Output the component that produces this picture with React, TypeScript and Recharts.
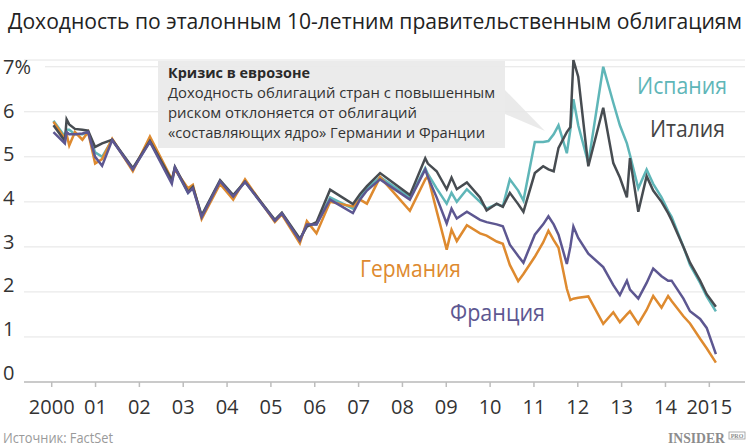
import React from 'react';
import { LineChart, Line, XAxis, YAxis, CartesianGrid } from 'recharts';

// годы (десятичные), общие для всех четырёх рядов
const dates = [
  2000.04, 2000.30, 2000.34, 2000.40, 2000.53, 2000.70, 2000.83, 2000.99, 2001.15, 2001.38,
  2001.85, 2002.24, 2002.74, 2002.81, 2003.11, 2003.22, 2003.42, 2003.84, 2004.14, 2004.41,
  2005.09, 2005.25, 2005.66, 2005.82, 2006.04, 2006.35, 2006.87, 2007.03, 2007.19, 2007.49,
  2008.17, 2008.52, 2008.58, 2008.78, 2009.01, 2009.12, 2009.24, 2009.47, 2009.77, 2009.92,
  2010.15, 2010.29, 2010.45, 2010.64, 2010.76, 2011.02, 2011.21, 2011.33, 2011.45, 2011.56,
  2011.75, 2011.83, 2011.90, 2012.01, 2012.24, 2012.58, 2012.81, 2012.96, 2013.12, 2013.19,
  2013.38, 2013.57, 2013.72, 2013.91, 2014.06, 2014.14, 2014.41, 2014.56, 2014.79, 2014.94,
  2015.15,
];

const spain = [
  5.80, 5.45, 5.60, 5.60, 5.50, 5.50, 5.55, 5.10, 5.00, 5.38,
  4.72, 5.35, 4.45, 4.75, 4.20, 4.33, 3.68, 4.45, 4.13, 4.45,
  3.58, 3.74, 3.15, 3.50, 3.50, 4.10, 3.85, 4.10, 4.30, 4.55,
  4.10, 4.75, 4.62, 4.30, 3.96, 4.20, 4.00, 4.28, 4.00, 3.85,
  3.95, 3.90, 4.50, 4.25, 4.03, 5.33, 5.33, 5.35, 5.50, 5.70,
  5.08, 5.60, 6.28, 5.70, 4.86, 7.00, 6.20, 5.70, 5.30, 5.04,
  4.30, 4.72, 4.40, 4.10, 3.80, 3.67, 3.00, 2.60, 2.20, 1.90,
  1.57,
];

const italy = [
  5.70, 5.35, 5.83, 5.72, 5.62, 5.60, 5.58, 5.22, 5.30, 5.38,
  4.75, 5.35, 4.48, 4.78, 4.22, 4.33, 3.70, 4.48, 4.15, 4.45,
  3.60, 3.76, 3.18, 3.45, 3.55, 4.27, 3.95, 4.17, 4.35, 4.64,
  4.15, 4.97, 4.85, 4.68, 4.28, 4.54, 4.28, 4.43, 4.10, 3.81,
  3.96, 3.89, 4.20, 3.95, 3.78, 4.64, 4.79, 4.72, 4.68, 5.20,
  5.55, 5.66, 7.15, 6.78, 4.79, 6.09, 4.86, 4.54, 4.10, 4.97,
  3.78, 4.57, 4.25, 4.00, 3.75, 3.59, 3.00, 2.65, 2.25, 1.95,
  1.67,
];

const germany = [
  5.78, 5.40, 5.50, 5.25, 5.55, 5.38, 5.55, 4.85, 4.95, 5.40,
  4.68, 5.45, 4.50, 4.72, 4.30, 4.38, 3.62, 4.40, 4.05, 4.50,
  3.55, 3.72, 3.08, 3.57, 3.30, 4.00, 3.90, 4.05, 3.96, 4.55,
  3.80, 4.50, 4.57, 3.80, 2.94, 3.38, 3.13, 3.48, 3.30, 3.25,
  3.12, 3.07, 2.60, 2.24, 2.40, 2.78, 3.10, 3.36, 3.15, 2.98,
  2.07, 1.82, 1.85, 1.87, 1.90, 1.29, 1.55, 1.33, 1.50, 1.57,
  1.29, 1.60, 1.91, 1.65, 1.91, 1.80, 1.46, 1.30, 0.96, 0.75,
  0.43,
];

const france = [
  5.55, 5.30, 5.55, 5.50, 5.50, 5.52, 5.55, 5.00, 4.80, 5.37,
  4.72, 5.33, 4.40, 4.76, 4.20, 4.30, 3.66, 4.46, 4.12, 4.44,
  3.58, 3.74, 3.14, 3.50, 3.50, 4.05, 3.75, 4.05, 4.25, 4.50,
  4.05, 4.72, 4.55, 4.10, 3.52, 3.85, 3.63, 3.78, 3.60, 3.55,
  3.50, 3.46, 3.05, 2.80, 2.65, 3.27, 3.50, 3.68, 3.50, 3.27,
  2.62, 3.00, 3.45, 3.20, 2.85, 2.55, 2.15, 1.93, 2.25, 2.05,
  1.85, 2.20, 2.52, 2.35, 2.25, 2.25, 1.85, 1.57, 1.40, 1.20,
  0.62,
];

const yearTicks = [2000, 2001, 2002, 2003, 2004, 2005, 2006, 2007, 2008, 2009, 2010, 2011, 2012, 2013, 2014, 2015];
const yTicks = [0, 1, 2, 3, 4, 5, 6, 7];

const noteLines = [
  'Доходность облигаций стран с повышенным',
  'риском отклоняется от облигаций',
  '«составляющих ядро» Германии и Франции',
];

const COLORS = {
  spain: '#5fb6b8',
  italy: '#474c51',
  germany: '#de8a2f',
  france: '#5d5791',
};

const FONT = '"Open Sans", "Noto Sans", sans-serif';

const rows = dates.map((t, i) => ({
  t,
  spain: spain[i],
  italy: italy[i],
  germany: germany[i],
  france: france[i],
}));

const yearLabel = (v: number) => (v === 2000 || v === 2015 ? String(v) : String(v).slice(2));

const YTick = (props: any) => {
  const { y, payload } = props;
  const v = payload.value;
  // подписи чуть выше линий сетки, как в оригинале
  const cy = y - 9.5 + 1.36 * v;
  return (
    <g>
      {v === 7 && <rect x={20} y={y - 3} width={25} height={6} fill="#fff" />}
      <text x={3} y={cy} dy="0.36em" fill="#333" fontSize={20} fontFamily={FONT}>
        {v === 7 ? '7%' : v}
      </text>
    </g>
  );
};

const XTick = (props: any) => {
  const { x, y, payload } = props;
  return (
    <text x={x} y={y + 18} dy="0.36em" textAnchor="middle" fill="#333" fontSize={20} fontFamily={FONT}>
      {yearLabel(payload.value)}
    </text>
  );
};

export default function App() {
  return (
    <div style={{ position: 'absolute', left: 0, top: 0, width: 750, height: 446, background: '#fff' }}>
      <LineChart width={750} height={446} data={rows} margin={{ top: 60, right: 5, left: 0, bottom: 24 }}>
        <CartesianGrid vertical={false} stroke="#e4e4e4" strokeWidth={1} />
        <XAxis
          type="number"
          dataKey="t"
          domain={[1999.368, 2015.814]}
          ticks={yearTicks}
          tick={<XTick />}
          height={40}
          axisLine={{ stroke: '#bdbdbd', strokeWidth: 1.5 }}
          tickLine={{ stroke: '#bdbdbd', strokeWidth: 1.5 }}
          tickSize={5}
          allowDataOverflow
        />
        <YAxis
          type="number"
          domain={[0, 7]}
          ticks={yTicks}
          width={24}
          axisLine={false}
          tickLine={false}
          tick={<YTick />}
        />
        <Line type="linear" dataKey="spain" stroke={COLORS.spain} strokeWidth={2.5} dot={false} isAnimationActive={false} />
        <Line type="linear" dataKey="germany" stroke={COLORS.germany} strokeWidth={2.5} dot={false} isAnimationActive={false} />
        <Line type="linear" dataKey="italy" stroke={COLORS.italy} strokeWidth={2.5} dot={false} isAnimationActive={false} />
        <Line type="linear" dataKey="france" stroke={COLORS.france} strokeWidth={2.5} dot={false} isAnimationActive={false} />
      </LineChart>

      <svg width={750} height={446} style={{ position: 'absolute', left: 0, top: 0, pointerEvents: 'none' }}>
        <text x={8} y={29} fontSize={21} fill="#222" fontFamily={FONT} textLength={734} lengthAdjust="spacingAndGlyphs">
          Доходность по эталонным 10-летним правительственным облигациям
        </text>

        {/* врезка про кризис */}
        <polygon points="505,90 545,131 505,114" fill="#e6e6e6" opacity={0.85} />
        <rect x={158} y={61} width={347} height={87} fill="#e9e9e9" opacity={0.92} />
        <text x={168} y={78} fontSize={15} fontWeight={700} fill="#2a2a2a" fontFamily={FONT} textLength={142} lengthAdjust="spacingAndGlyphs">
          Кризис в еврозоне
        </text>
        {noteLines.map((s, i) => (
          <text
            key={s}
            x={168}
            y={98 + i * 20}
            fontSize={15}
            fill="#333"
            fontFamily={FONT}
            textLength={[327, 249, 317][i]}
            lengthAdjust="spacingAndGlyphs"
          >
            {s}
          </text>
        ))}

        {/* подписи рядов */}
        <text x={637} y={94} fontSize={23} fill={COLORS.spain} fontFamily={FONT} textLength={90} lengthAdjust="spacingAndGlyphs">
          Испания
        </text>
        <text x={650} y={137} fontSize={23} fill="#444" fontFamily={FONT} textLength={75} lengthAdjust="spacingAndGlyphs">
          Италия
        </text>
        <text x={360} y={277} fontSize={23} fill={COLORS.germany} fontFamily={FONT} textLength={101} lengthAdjust="spacingAndGlyphs">
          Германия
        </text>
        <text x={450} y={321} fontSize={23} fill={COLORS.france} fontFamily={FONT} textLength={95} lengthAdjust="spacingAndGlyphs">
          Франция
        </text>

        <text x={3} y={443} fontSize={14} fill="#9a9a9a" fontFamily={FONT} textLength={110} lengthAdjust="spacingAndGlyphs">
          Источник: FactSet
        </text>
        <text x={668} y={443} fontSize={14} fontWeight={700} fill="#8c8c8c" fontFamily='"Liberation Serif", serif' textLength={57} lengthAdjust="spacingAndGlyphs">
          INSIDER
        </text>
        <rect x={729} y={432} width={16} height={7} fill="none" stroke="#9a9a9a" strokeWidth={0.8} />
        <text x={737} y={438} fontSize={6} fontWeight={700} fill="#8c8c8c" textAnchor="middle" fontFamily='"Liberation Serif", serif'>
          PRO
        </text>
      </svg>
    </div>
  );
}
